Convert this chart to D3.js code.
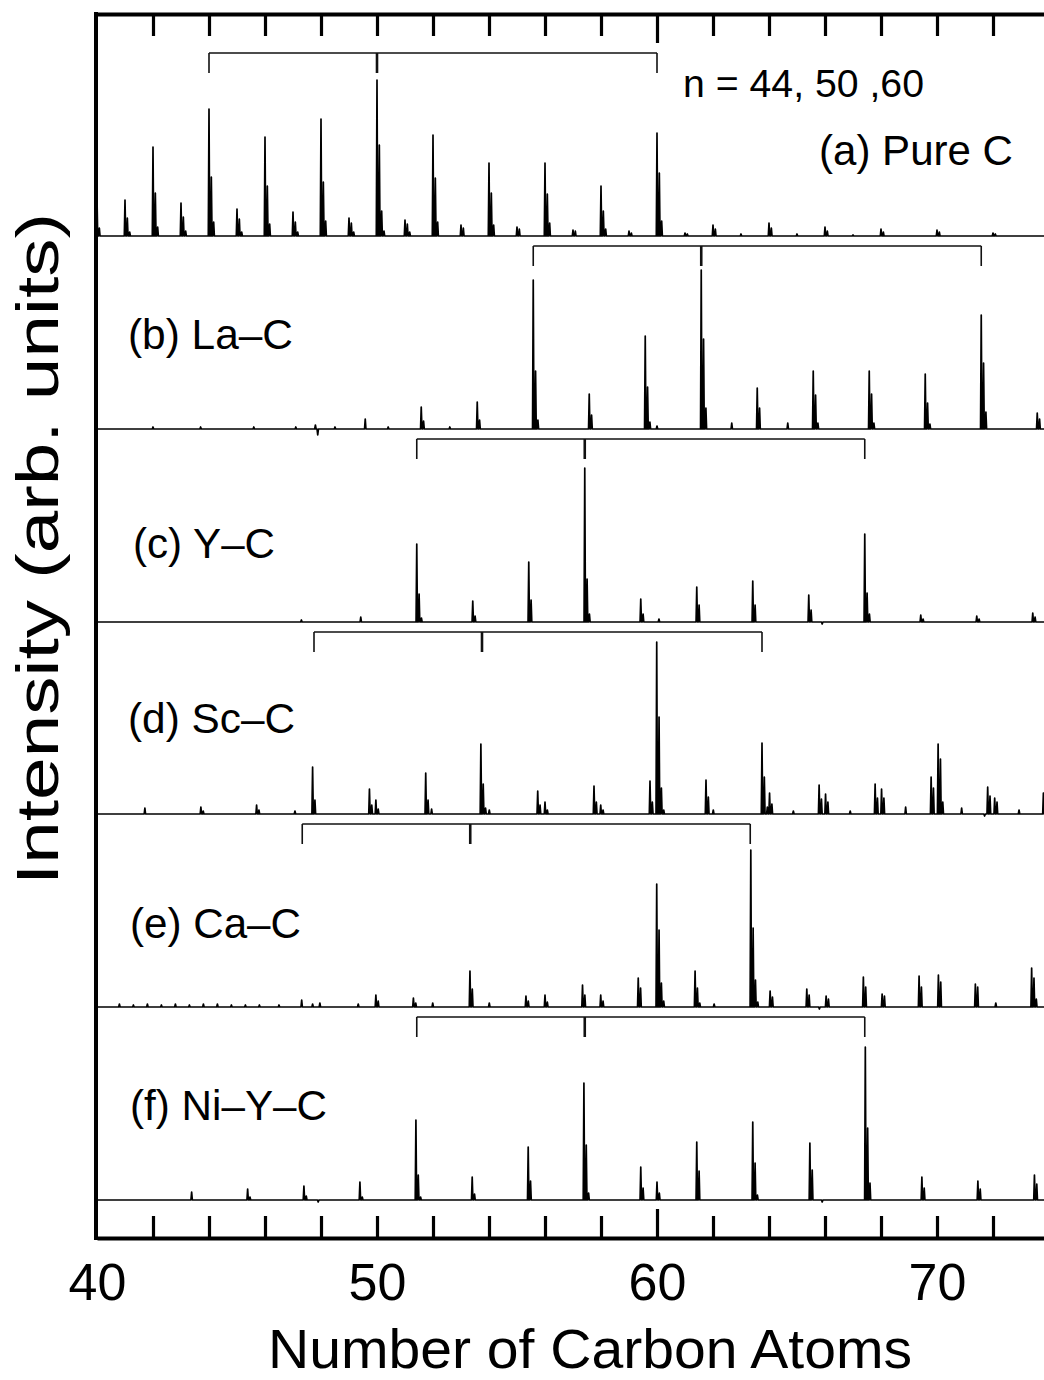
<!DOCTYPE html>
<html>
<head>
<meta charset="utf-8">
<script src="https://cdn.jsdelivr.net/npm/d3@7"></script>
<style>
  body { margin: 0; background: #fff; }
  svg { display: block; }
  text { font-family: "Liberation Sans", Arial, Helvetica, sans-serif; fill: #000; }
</style>
</head>
<body>
<svg id="chart" width="1044" height="1380"></svg>
<script>
// ---- Data -------------------------------------------------------------
// Peak clusters: [position in carbon atoms, [intensities of the isotope
// components, spaced by one mass unit (1/12 of a carbon atom)]]
const panelLabels = ["(a) Pure C", "(b) La\u2013C", "(c) Y\u2013C", "(d) Sc\u2013C", "(e) Ca\u2013C", "(f) Ni\u2013Y\u2013C"];

const pureC = [
  [40.0, [38, 8]], [41.0, [36, 18, 4]], [42.0, [89, 43, 9]], [43.0, [33, 19, 5]],
  [44.0, [127, 59, 14]], [45.0, [27, 17, 4]], [46.0, [99, 50, 12]], [47.0, [24, 14, 4]],
  [48.0, [117, 54, 15]], [49.0, [18, 13, 4]], [50.0, [156, 91, 25, 5]], [51.0, [16, 12, 4]],
  [52.0, [101, 58, 14]], [53.0, [11, 8]], [54.0, [73, 43, 11]], [55.0, [9, 7]],
  [56.0, [73, 42, 13]], [57.0, [6, 5]], [58.0, [50, 25, 7]], [59.0, [5, 3]],
  [60.0, [103, 63, 15]], [61.0, [3, 2]], [62.0, [11, 7]], [63.0, [2]],
  [64.0, [13, 8]], [65.0, [2]], [66.0, [9, 5]], [67.0, [1]],
  [68.0, [7, 4]], [70.0, [6, 4]], [72.0, [3, 2]]
];

const laC = [
  [42.0, [2]], [43.7, [2]], [45.6, [2]], [47.1, [2]], [47.8, [4, -6]], [48.5, [2]],
  [49.58, [10]], [50.4, [2]], [51.58, [22, 8]], [52.6, [2]], [53.58, [27, 9]],
  [55.58, [149, 58, 9]], [57.58, [35, 14]], [59.58, [93, 42, 7]], [60.0, [3]],
  [61.58, [159, 90, 21]], [62.67, [6]], [63.58, [41, 21]], [64.67, [6]],
  [65.58, [58, 34, 6]], [67.58, [58, 35, 6]], [69.58, [55, 26, 5]],
  [71.58, [114, 66, 17]], [73.58, [16, 10]]
];

const yC = [
  [47.3, [2]], [49.42, [5]], [51.42, [78, 28, 4]], [53.42, [21, 6]], [55.42, [60, 22]],
  [57.42, [154, 43, 8]], [59.42, [23, 8]], [60.07, [3]], [61.42, [35, 17]],
  [63.42, [41, 17]], [65.42, [27, 12]], [65.9, [-2]], [67.42, [88, 29, 8]],
  [69.42, [7, 3]], [71.42, [6, 3]], [73.42, [9, 5]]
];

const scC = [
  [41.71, [6]], [43.71, [7, 3]], [45.7, [9, 4]], [47.07, [3]], [47.7, [47, 14]],
  [49.73, [25, 9]], [49.96, [14, 5]], [51.74, [41, 14]], [51.95, [5]],
  [53.71, [70, 30, 6]], [54.01, [4]], [55.74, [23, 9]], [56.0, [12, 4]],
  [57.75, [28, 12]], [57.99, [9, 4]], [59.75, [33, 12]], [59.99, [172, 97, 26, 4]],
  [61.75, [34, 17]], [62.01, [4]], [63.75, [71, 37]], [63.94, [7]], [64.02, [21, 10]],
  [64.87, [3]], [65.79, [29, 15]], [66.02, [20, 12]], [66.9, [3]],
  [67.79, [30, 16]], [68.02, [25, 16]], [68.88, [7]], [69.79, [37, 26]],
  [70.04, [70, 55, 12]], [70.88, [6]], [71.7, [-2]], [71.81, [27, 18]], [72.06, [16, 12]],
  [72.93, [4]], [73.8, [21]]
];

const caC = [
  [40.8, [3]], [41.3, [2]], [41.8, [3]], [42.3, [2]], [42.8, [3]], [43.3, [2]],
  [43.8, [3]], [44.3, [3]], [44.8, [2]], [45.3, [2]], [45.8, [2]], [46.5, [2]],
  [47.31, [7]], [47.7, [3]], [47.96, [4]], [49.33, [3]], [49.96, [12, 6]],
  [51.3, [9, 4]], [51.99, [4]], [53.32, [36, 18]], [54.01, [4]], [55.32, [11, 6]],
  [56.0, [12, 5]], [57.34, [22, 12]], [57.99, [12, 6]], [59.33, [29, 19]],
  [59.99, [123, 77, 24, 6]], [61.36, [36, 19, 4]], [62.04, [3]],
  [63.35, [157, 79, 27, 5]], [64.04, [16, 10]], [65.35, [18, 12]], [65.8, [-2]],
  [66.04, [11, 8]], [67.37, [30, 20]], [68.04, [13, 11]], [69.36, [31, 20]],
  [70.05, [32, 25]], [71.37, [23, 20]], [72.1, [4]], [73.38, [39, 29, 8]]
];

const niYC = [
  [43.38, [8]], [45.38, [11, 3]], [47.39, [14, 4]], [47.9, [-2]], [49.39, [18, 3]],
  [51.39, [80, 25, 3]], [53.4, [23, 6]], [55.4, [53, 19]], [57.39, [117, 55, 7]],
  [59.42, [33, 12]], [60.0, [18, 7]], [61.42, [58, 29]], [63.42, [78, 37, 5]],
  [65.46, [57, 30]], [65.9, [-2]], [67.44, [153, 72, 17]], [69.46, [23, 12]],
  [71.46, [19, 11]], [73.48, [25, 16]]
];

const spectra = [pureC, laC, yC, scC, caC, niYC];

// Cluster sizes n = 44, 50, 60 (shifted by the metal atom's mass in carbon units)
const bracketMarks = [
  [44, 50, 60],
  [55.58, 61.58, 71.58],
  [51.42, 57.42, 67.42],
  [47.75, 53.75, 63.75],
  [47.33, 53.33, 63.33],
  [51.42, 57.42, 67.42]
];

const xMinorTicks = [42, 44, 46, 48, 50, 52, 54, 56, 58, 60, 62, 64, 66, 68, 70, 72];
const xTickLabels = [40, 50, 60, 70];
const xDomain = [40, 74];

// ---- Layout -----------------------------------------------------------
const svg = d3.select("#chart");
const plotLeft = 97, plotRight = 1049, plotTop = 14, plotBottom = 1238;
const baselines = [236, 429, 622, 814, 1007, 1200];
const panelTops = [plotTop, 236, 429, 622, 814, 1007];
const isoStep = 1 / 12;
const halfWidth = 0.025;

const x = d3.scaleLinear().domain(xDomain).range([plotLeft, plotRight]);

svg.append("rect").attr("width", 1044).attr("height", 1380).attr("fill", "#fff");

// ---- Spectra ----------------------------------------------------------
const line = d3.line().x(d => x(d[0])).y(d => d[1]);

spectra.forEach((peaks, i) => {
  const y = d3.scaleLinear().domain([0, 200]).range([baselines[i], baselines[i] - 200]);
  const comps = [];
  peaks.forEach(([pos, hs]) => hs.forEach((h, k) => comps.push([pos + k * isoStep, h])));
  comps.sort((a, b) => a[0] - b[0]);
  const pts = [[39.92, y(0)]];
  comps.forEach(([p, h]) => {
    pts.push([p - halfWidth, y(0)], [p, y(h)], [p + halfWidth, y(0)]);
  });
  pts.push([74.2, y(0)]);
  svg.append("path")
    .attr("d", line(pts))
    .attr("fill", "none")
    .attr("stroke", "#000")
    .attr("stroke-width", 1.7)
    .attr("stroke-linejoin", "round");
});

// ---- Brackets marking n = 44, 50, 60 ----------------------------------
bracketMarks.forEach((marks, i) => {
  const yTop = i === 0 ? 53 : panelTops[i] + 10;
  const g = svg.append("g").attr("stroke", "#111").attr("fill", "none");
  g.append("line")
    .attr("x1", x(marks[0])).attr("x2", x(marks[2]))
    .attr("y1", yTop).attr("y2", yTop)
    .attr("stroke-width", 1.6);
  marks.forEach((m, k) => {
    g.append("line")
      .attr("x1", x(m)).attr("x2", x(m))
      .attr("y1", yTop).attr("y2", yTop + 20)
      .attr("stroke-width", k === 1 ? 2.6 : 1.6);
  });
});

// ---- Axes / frame ------------------------------------------------------
const topAxis = svg.append("g")
  .attr("transform", `translate(0,${plotTop})`)
  .call(d3.axisTop(x).tickValues(xMinorTicks).tickSize(-22).tickSizeOuter(0).tickFormat(""));
const bottomAxis = svg.append("g")
  .attr("transform", `translate(0,${plotBottom})`)
  .call(d3.axisBottom(x).tickValues(xMinorTicks).tickSize(-22).tickSizeOuter(0).tickFormat(""));

[topAxis, bottomAxis].forEach(g => {
  g.select(".domain").attr("stroke", "#000").attr("stroke-width", 4);
  g.selectAll(".tick line").attr("stroke", "#000").attr("stroke-width", 3.2);
});
topAxis.selectAll(".tick").filter(d => d === 60).select("line").attr("y2", 29);
bottomAxis.selectAll(".tick").filter(d => d === 60).select("line").attr("y2", -29);

// tick labels
const labelAxis = svg.append("g")
  .attr("transform", `translate(0,${plotBottom})`)
  .call(d3.axisBottom(x).tickValues(xTickLabels).tickSize(0).tickPadding(25).tickFormat(d3.format("d")));
labelAxis.select(".domain").remove();
labelAxis.selectAll("text")
  .attr("font-size", 52)
  .attr("font-family", "'Liberation Sans', Arial, sans-serif")
  .attr("fill", "#000");

// left frame line
svg.append("line")
  .attr("x1", 96).attr("x2", 96)
  .attr("y1", plotTop - 2).attr("y2", plotBottom + 2)
  .attr("stroke", "#000").attr("stroke-width", 4);

// ---- Text --------------------------------------------------------------
const labelPos = [
  { x: 819, y: 165, w: 194 },
  { x: 128, y: 349, w: 165 },
  { x: 133, y: 558, w: 142 },
  { x: 128, y: 733, w: 167 },
  { x: 130, y: 938, w: 171 },
  { x: 130, y: 1120, w: 197 }
];
panelLabels.forEach((t, i) => {
  svg.append("text")
    .attr("x", labelPos[i].x).attr("y", labelPos[i].y)
    .attr("font-size", 42)
    .attr("textLength", labelPos[i].w)
    .attr("lengthAdjust", "spacingAndGlyphs")
    .text(t);
});

svg.append("text")
  .attr("x", 683).attr("y", 97)
  .attr("font-size", 39)
  .attr("textLength", 241)
  .attr("lengthAdjust", "spacingAndGlyphs")
  .text("n = 44, 50 ,60");

svg.append("text")
  .attr("x", 590).attr("y", 1368)
  .attr("text-anchor", "middle")
  .attr("font-size", 55)
  .attr("textLength", 644)
  .attr("lengthAdjust", "spacingAndGlyphs")
  .text("Number of Carbon Atoms");

svg.append("text")
  .attr("transform", "translate(58,549) rotate(-90)")
  .attr("text-anchor", "middle")
  .attr("font-size", 60)
  .attr("textLength", 672)
  .attr("lengthAdjust", "spacingAndGlyphs")
  .text("Intensity (arb. units)");
</script>
</body>
</html>
